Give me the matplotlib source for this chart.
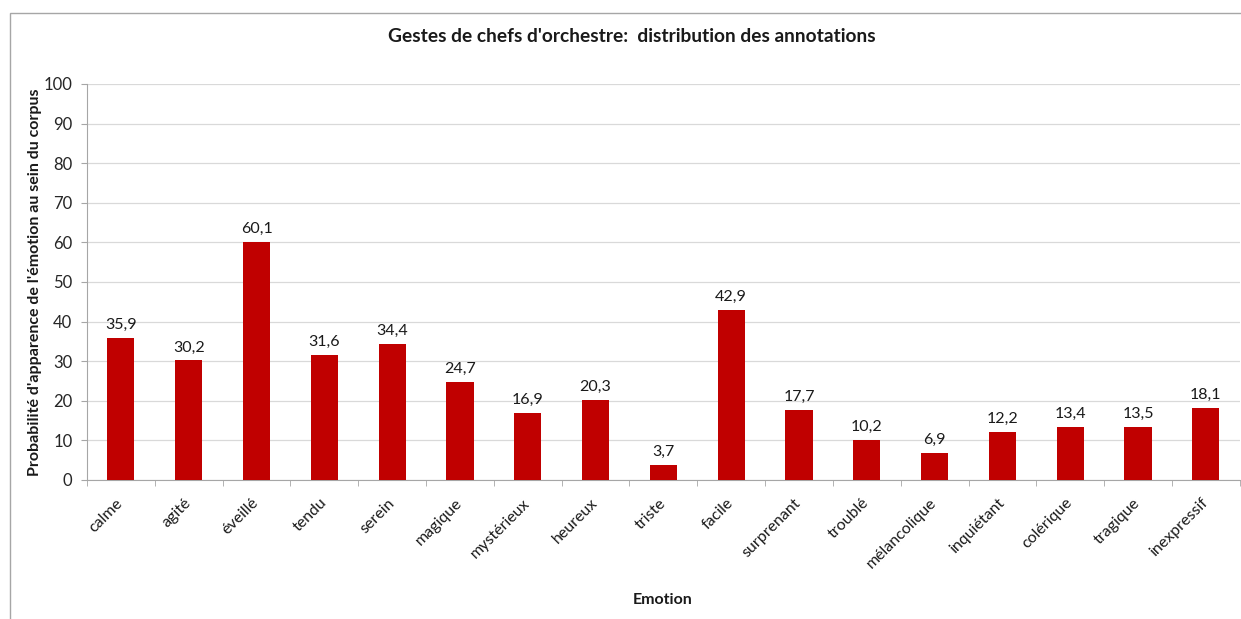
import numpy as np
import matplotlib.pyplot as plt
import matplotlib.transforms as mtransforms
from matplotlib.patches import Rectangle

emotions = ["calme", "agité", "éveillé", "tendu", "serein", "magique", "mystérieux",
            "heureux", "triste", "facile", "surprenant", "troublé", "mélancolique",
            "inquiétant", "colérique", "tragique", "inexpressif"]
probabilities = [35.9, 30.2, 60.1, 31.6, 34.4, 24.7, 16.9, 20.3, 3.7, 42.9,
                 17.7, 10.2, 6.9, 12.2, 13.4, 13.5, 18.1]
y_ticks = list(range(0, 101, 10))

plt.rcParams['font.family'] = ['Lato', 'DejaVu Sans']

fig = plt.figure(figsize=(12.41, 6.19), dpi=100)
ax = fig.add_axes([0.0701, 0.2246, 0.9289, 0.6397])

# chart frame (Excel style)
fig.patches.append(Rectangle((10 / 1241, -0.05), 1.1, 1.05 - 13 / 619,
                             transform=fig.transFigure, fill=False,
                             edgecolor='#a6a6a6', linewidth=1.0))

x = np.arange(len(emotions))
ax.bar(x, probabilities, width=0.4, color='#c00000', zorder=3)

for xi, v in zip(x, probabilities):
    ax.text(xi, v + 1.5, ("%.1f" % v).replace('.', ','), ha='center', va='bottom',
            fontsize=11.5, color='#1a1a1a')

ax.set_xlim(-0.5, len(emotions) - 0.5)
ax.set_ylim(0, 100)
ax.set_yticks(y_ticks)
ax.set_yticklabels([str(t) for t in y_ticks], fontsize=12, color='#262626')
ax.yaxis.grid(True, color='#d9d9d9', linewidth=0.9, zorder=0)
ax.set_axisbelow(True)

ax.set_xticks(x)
ax.set_xticklabels(emotions, rotation=45, ha='right', va='center',
                   rotation_mode='anchor', fontsize=11.5, color='#1a1a1a')
shift = mtransforms.ScaledTranslation(5 / 100, 0, fig.dpi_scale_trans)
for lab in ax.get_xticklabels():
    lab.set_transform(lab.get_transform() + shift)
ax.set_xticks(np.arange(-0.5, len(emotions)), minor=True)
ax.tick_params(axis='x', which='major', length=0, pad=15)
ax.tick_params(axis='x', which='minor', length=4.5, color='#a6a6a6', direction='out')
ax.tick_params(axis='y', length=4.5, color='#a6a6a6', direction='out', pad=6)

for side in ('top', 'right'):
    ax.spines[side].set_visible(False)
for side in ('left', 'bottom'):
    ax.spines[side].set_color('#a6a6a6')

fig.text(0.509, 1 - 36 / 619, "Gestes de chefs d'orchestre:  distribution des annotations",
         ha='center', va='center', fontsize=13.8, fontweight='bold', color='#1a1a1a')
fig.text(0.534, 1 - 600 / 619, "Emotion", ha='center', va='center',
         fontsize=11.5, fontweight='bold', color='#1a1a1a')
fig.text(35 / 1241, 1 - 282 / 619, "Probabilité d'apparence de l'émotion au sein du corpus",
         ha='center', va='center', rotation=90, fontsize=11.5, fontweight='bold',
         color='#1a1a1a')

fig.savefig("out.png", dpi=100)
